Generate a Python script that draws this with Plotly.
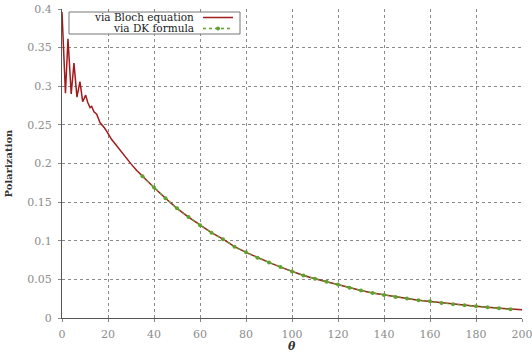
import plotly.graph_objects as go

# ---- data ----
bloch_theta = [0, 1.5, 2.6, 4.0, 5.2, 6.5, 7.8, 9.0, 10.3, 11.2, 12.2, 12.9, 13.9,
               15.1, 16.5, 17.5, 18.5, 19.4, 20.5, 21.6, 23, 25, 27.5, 30, 32.5,
               35, 40, 45, 50, 55, 60, 65, 70, 75, 80, 85, 90, 95, 100, 105, 110,
               115, 120, 125, 130, 135, 140, 145, 150, 155, 160, 165, 170, 175,
               180, 185, 190, 195, 200]
bloch_pol = [0.396, 0.291, 0.3614, 0.290, 0.330, 0.286, 0.306, 0.280, 0.2885, 0.279,
             0.2725, 0.274, 0.2668, 0.2638, 0.253, 0.250, 0.246, 0.242, 0.236, 0.231,
             0.226, 0.218, 0.208, 0.1995, 0.191,
             0.1835, 0.169, 0.155, 0.142, 0.1306, 0.120, 0.1105, 0.102, 0.0923,
             0.085, 0.078, 0.072, 0.0659, 0.0603, 0.0551, 0.0507, 0.0468, 0.0433,
             0.039, 0.0355, 0.0325, 0.0299, 0.0273, 0.0251, 0.0231, 0.0214, 0.0195,
             0.0178, 0.0164, 0.0152, 0.0139, 0.0127, 0.0115, 0.0106]

dk_theta = [35, 40, 45, 50, 55, 60, 65, 70, 75, 80, 85, 90, 95, 100, 105, 110, 115,
            120, 125, 130, 135, 140, 145, 150, 155, 160, 165, 170, 175, 180, 185,
            190, 195]
dk_pol = [0.1835, 0.169, 0.155, 0.142, 0.1306, 0.120, 0.1105, 0.102, 0.0923, 0.085,
          0.078, 0.072, 0.0659, 0.0603, 0.0551, 0.0507, 0.0468, 0.0433, 0.039, 0.0355,
          0.0325, 0.0299, 0.0273, 0.0251, 0.0229, 0.0216, 0.0194, 0.0177, 0.0164,
          0.0152, 0.0138, 0.0125, 0.0113]

x_ticks = [0, 20, 40, 60, 80, 100, 120, 140, 160, 180, 200]
y_ticks = [0, 0.05, 0.1, 0.15, 0.2, 0.25, 0.3, 0.35, 0.4]
y_tick_text = ["0", "0.05", "0.1", "0.15", "0.2", "0.25", "0.3", "0.35", "0.4"]

labels = ["via Bloch equation", "via DK formula"]
x_title = "θ"
y_title = "Polarization"

RED = "#a01c1c"
GREEN = "#5ea32e"
FONT = "DejaVu Serif"

fig = go.Figure()
fig.add_trace(go.Scatter(x=bloch_theta, y=bloch_pol, mode="lines",
                         line=dict(color=RED, width=1.5), name=labels[0]))
fig.add_trace(go.Scatter(x=dk_theta, y=dk_pol, mode="lines+markers",
                         line=dict(color=GREEN, width=1.3, dash="dot"),
                         marker=dict(color=GREEN, size=4), name=labels[1]))

# plot area in pixels: x 62..522, y 9..318
L, R, T, B = 62, 522, 9, 318
def px(x):
    return (x - L) / (R - L)
def py(y):
    return (B - y) / (B - T)

shapes = [
    dict(type="rect", xref="paper", yref="paper", x0=px(69), x1=px(240), y0=py(12), y1=py(34),
         line=dict(color="#777", width=1), fillcolor="white", layer="above"),
    dict(type="line", xref="paper", yref="paper", x0=px(203), x1=px(233), y0=py(17.5), y1=py(17.5),
         line=dict(color=RED, width=1.5), layer="above"),
    dict(type="line", xref="paper", yref="paper", x0=px(203), x1=px(233), y0=py(28.5), y1=py(28.5),
         line=dict(color=GREEN, width=1.3, dash="dot"), layer="above"),
    dict(type="circle", xref="paper", yref="paper", x0=px(216), x1=px(220), y0=py(26.5), y1=py(30.5),
         line=dict(color=GREEN, width=0), fillcolor=GREEN, layer="above"),
]

annotations = [
    dict(text=labels[0], xref="paper", yref="paper", x=px(196), y=py(17.5), xanchor="right",
         yanchor="middle", showarrow=False, font=dict(family=FONT, size=10.5, color="#222")),
    dict(text=labels[1], xref="paper", yref="paper", x=px(196), y=py(28.5), xanchor="right",
         yanchor="middle", showarrow=False, font=dict(family=FONT, size=10.5, color="#222")),
    dict(text="<b><i>" + x_title + "</i></b>", xref="paper", yref="paper", x=0.5, y=py(346.5),
         xanchor="center", yanchor="middle", showarrow=False, borderpad=0,
         font=dict(family=FONT, size=11, color="#333")),
]

fig.update_layout(
    width=532, height=354,
    margin=dict(l=L, r=532 - R, t=T, b=354 - B, autoexpand=False),
    paper_bgcolor="white", plot_bgcolor="white",
    showlegend=False,
    shapes=shapes, annotations=annotations,
    font=dict(family=FONT, size=11, color="#8c8c8c"),
    xaxis=dict(range=[0, 200], tickvals=x_ticks, showgrid=True, gridcolor="#8a8a8a",
               griddash="dot", gridwidth=1, zeroline=False, showline=True, automargin=False,
               linecolor="#555", linewidth=1, ticks="outside", ticklen=3, tickcolor="#888",
               tickfont=dict(family=FONT, size=11, color="#8c8c8c"), ticklabelstandoff=3,
               ticklabeloverflow="allow"),
    yaxis=dict(range=[0, 0.4], tickvals=y_ticks, ticktext=y_tick_text, showgrid=True,
               gridcolor="#8a8a8a", griddash="dot", gridwidth=1, zeroline=False,
               showline=True, linecolor="#555", linewidth=1, ticks="outside", ticklen=3,
               tickcolor="#888", tickfont=dict(family=FONT, size=11, color="#8c8c8c"),
               ticklabelstandoff=4, automargin=False, ticklabeloverflow="allow",
               title=dict(text="<b>" + y_title + "</b>",
                          font=dict(family=FONT, size=10, color="#333"), standoff=12)),
)

fig.write_html("out.html", config={"displayModeBar": False},
               post_script="document.body.style.margin='0';")
